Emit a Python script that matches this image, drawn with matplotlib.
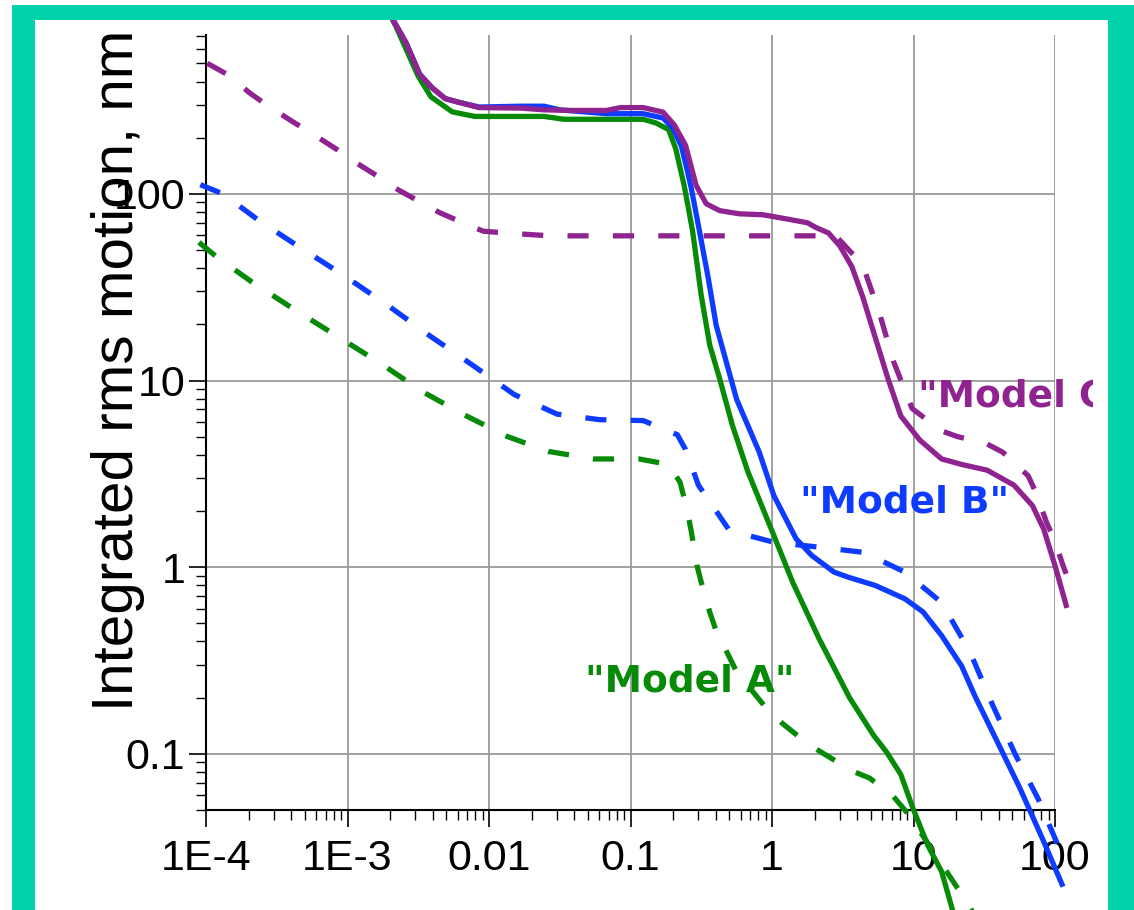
"""
Integrated rms motion vs frequency for three ground-motion models (log-log).
Solid = one estimate, dashed = the other; labels placed next to each family.
"""

import matplotlib

matplotlib.use("Agg")
import matplotlib.pyplot as plt
import numpy as np
from matplotlib.patches import Rectangle
from matplotlib.ticker import LogLocator, NullFormatter

W, H = 1134, 910
TEAL = "#00D2AC"
PURPLE = "#8F2390"
BLUE = "#0D3BFF"
GREEN = "#078A07"

# ---- data (frequency, integrated rms in nm) ----
green_solid_x = [0.0020, 0.00219, 0.00316, 0.00389, 0.0055, 0.00794, 0.0245, 0.0339,
                 0.123, 0.151, 0.186, 0.209, 0.240, 0.275, 0.316, 0.363, 0.427, 0.525,
                 0.676, 1.03, 1.40, 2.14, 3.53, 5.21, 6.46, 8.13, 9.89, 12.6, 15.8, 19.1]
green_solid_y = [912, 794, 427, 331, 275, 260, 260, 251,
                 251, 240, 221, 174, 110, 63, 28.6, 15.5, 10.2, 5.75,
                 3.24, 1.48, 0.83, 0.417, 0.20, 0.126, 0.102, 0.0776, 0.0513, 0.0324, 0.0234, 0.0141]

blue_solid_x = [0.0020, 0.00259, 0.00324, 0.00398, 0.0049, 0.00617, 0.00851, 0.017, 0.0245,
                0.0316, 0.0676, 0.123, 0.170, 0.200, 0.229, 0.251, 0.269, 0.302, 0.355,
                0.403, 0.513, 0.562, 0.813, 1.03, 1.48, 1.91, 2.75, 3.47, 5.37, 8.71,
                11.7, 15.8, 21.9, 27.5, 38.9, 56.2, 83.2, 112]
blue_solid_y = [912, 646, 437, 369, 324, 309, 292, 295, 295,
                282, 269, 269, 255, 224, 180, 135, 107, 67.6, 35.1,
                19.8, 10.2, 7.94, 4.13, 2.42, 1.42, 1.155, 0.94, 0.883, 0.798, 0.676,
                0.575, 0.43, 0.295, 0.20, 0.117, 0.066, 0.0339, 0.020]

purple_solid_x = [0.0020, 0.00259, 0.00324, 0.00398, 0.0049, 0.00617, 0.00851, 0.017, 0.0245,
                  0.038, 0.0676, 0.0851, 0.123, 0.170, 0.204, 0.245, 0.291, 0.343, 0.427,
                  0.589, 0.861, 1.26, 1.78, 2.04, 2.51, 3.02, 3.67, 4.37, 5.68, 6.61,
                  8.13, 11.1, 15.8, 21.9, 33.1, 51.3, 69.2, 83.2, 100, 120]
purple_solid_y = [912, 646, 437, 369, 324, 309, 290, 288, 282,
                  280, 280, 290, 290, 274, 234, 182, 111, 88.5, 81.3,
                  78.2, 77.3, 73.5, 70.0, 66.1, 61.7, 52.5, 40.7, 28.2, 14.8, 10.2,
                  6.46, 4.79, 3.80, 3.55, 3.31, 2.75, 2.14, 1.60, 1.02, 0.624]

purple_dash_x = [1.02e-4, 1.41e-4, 2.04e-4, 2.69e-4, 4.12e-4, 5.43e-4, 8.51e-4, 1.10e-3,
                 1.70e-3, 2.19e-3, 3.39e-3, 4.47e-3, 6.76e-3, 9.12e-3, 0.0132, 0.0269,
                 2.82, 3.39, 4.37, 5.75, 7.24, 9.77, 15.8, 20.4, 33.1, 42.7, 64.6, 73.3,
                 87.1, 100, 112, 123]
purple_dash_y = [501, 437, 347, 299, 243, 214, 172, 150,
                 122, 107, 89.1, 79.4, 69.2, 63.1, 61.7, 59.6,
                 59.6, 51.3, 41.7, 22.9, 12.6, 7.08, 5.37, 5.01, 4.57, 4.13, 3.09, 2.51,
                 1.74, 1.38, 1.06, 0.871]

blue_dash_x = [9.12e-5, 1.32e-4, 2.34e-4, 4.68e-4, 9.55e-4, 1.95e-3, 3.80e-3, 7.76e-3,
               0.0151, 0.0302, 0.0603, 0.123, 0.214, 0.245, 0.302, 0.501, 1.03, 2.14,
               4.47, 8.71, 15.8, 25.1, 36.3, 52.5, 75.9, 115]
blue_dash_y = [112, 100, 72.4, 51.3, 36.3, 25.1, 17.4, 12.0,
               8.41, 6.61, 6.17, 6.10, 5.13, 4.27, 2.75, 1.57, 1.36, 1.28,
               1.20, 0.94, 0.646, 0.351, 0.182, 0.0989, 0.0575, 0.0275]

green_dash_x = [8.91e-5, 1.20e-4, 2.09e-4, 4.22e-4, 8.32e-4, 1.70e-3, 3.39e-3, 6.92e-3,
                0.0135, 0.0263, 0.055, 0.115, 0.186, 0.224, 0.251, 0.269, 0.295, 0.316,
                0.363, 0.398, 0.562, 0.877, 1.19, 1.82, 2.45, 3.63, 4.90, 7.24, 9.33,
                15.8, 24.5, 26.3]
green_dash_y = [55.0, 45.7, 33.9, 24.0, 17.4, 12.4, 8.71, 6.46,
                5.01, 4.17, 3.80, 3.80, 3.55, 2.85, 2.04, 1.55, 1.02, 0.832,
                0.575, 0.468, 0.275, 0.182, 0.145, 0.112, 0.0977, 0.0813, 0.0741, 0.0589, 0.0468,
                0.0257, 0.0155, 0.0141]

x_ticks = [1e-4, 1e-3, 1e-2, 1e-1, 1, 10, 100]
x_tick_labels = ["1E-4", "1E-3", "0.01", "0.1", "1", "10", "100"]
y_ticks = [0.1, 1, 10, 100]
y_tick_labels = ["0.1", "1", "10", "100"]

labels = ['"Model A"', '"Model B"', '"Model C"']
label_colors = [GREEN, BLUE, PURPLE]
label_pos = [(0.263, 0.245), (8.7, 2.23), (10.7, 8.2)]

plt.rcParams["font.family"] = ["Liberation Sans", "DejaVu Sans"]

fig = plt.figure(figsize=(W / 100, H / 100), dpi=100)
fig.patch.set_facecolor("white")
fig.add_artist(Rectangle((12 / W, 0), 1 - 12 / W, 905 / H, transform=fig.transFigure,
                         facecolor=TEAL, edgecolor="none", zorder=-3))
fig.add_artist(Rectangle((35 / W, 0), (1108 - 35) / W, 890 / H, transform=fig.transFigure,
                         facecolor="white", edgecolor="none", zorder=-2))

ax = fig.add_axes([206 / W, 100 / H, (1055 - 206) / W, (810 - 35) / H])
ax.set_facecolor("none")
ax.set_xscale("log")
ax.set_yscale("log")
ax.set_xlim(1e-4, 100)
ax.set_ylim(0.05, 710)

series = [
    (green_dash_x, green_dash_y, GREEN, "dash"),
    (blue_dash_x, blue_dash_y, BLUE, "dash"),
    (purple_dash_x, purple_dash_y, PURPLE, "dash"),
    (green_solid_x, green_solid_y, GREEN, "solid"),
    (blue_solid_x, blue_solid_y, BLUE, "solid"),
    (purple_solid_x, purple_solid_y, PURPLE, "solid"),
]
for xs, ys, color, style in series:
    ls = (0, (4.0, 4.6)) if style == "dash" else "-"
    (ln,) = ax.plot(xs, ys, color=color, lw=3.8, ls=ls, solid_joinstyle="round",
                    dash_capstyle="butt", zorder=3)
    # lines run past the axes, up to the white panel edge
    ln.set_clip_path(Rectangle((35 / W, 0), (1108 - 35) / W, 890 / H,
                               transform=fig.transFigure))

for text, color, (tx, ty) in zip(labels, label_colors, label_pos):
    ha = "left" if text.endswith('C"') else "center"
    t = ax.text(tx, ty, text, color=color, fontsize=27, fontweight="bold",
                family="DejaVu Sans", ha=ha, va="center", zorder=4)
    # the third label is cut off at the right in the original
    t.set_clip_on(True)
    t.set_clip_path(Rectangle((0, 0), 1093 / W, 1, transform=fig.transFigure))

ax.set_xticks(x_ticks)
ax.set_xticklabels(x_tick_labels)
ax.set_yticks(y_ticks)
ax.set_yticklabels(y_tick_labels)
ax.xaxis.set_minor_locator(LogLocator(base=10, subs=np.arange(2, 10)))
ax.yaxis.set_minor_locator(LogLocator(base=10, subs=np.arange(2, 10)))
ax.xaxis.set_minor_formatter(NullFormatter())
ax.yaxis.set_minor_formatter(NullFormatter())

ax.tick_params(which="major", direction="out", length=12, width=1.2, labelsize=31)
ax.tick_params(which="minor", direction="out", length=7, width=1)
ax.tick_params(axis="x", which="major", pad=9)
ax.tick_params(axis="y", which="major", pad=3)

for side in ("top", "right"):
    ax.spines[side].set_visible(False)
for side in ("left", "bottom"):
    ax.spines[side].set_linewidth(1.5)

ax.grid(True, which="major", color="#9a9a9a", lw=1.3)
ax.set_axisbelow(True)

fig.text(118 / W, 1 - 370 / H, "Integrated rms motion, nm", rotation=90,
         fontsize=42, ha="center", va="center")

fig.savefig("out.png", dpi=100)
plt.close(fig)
